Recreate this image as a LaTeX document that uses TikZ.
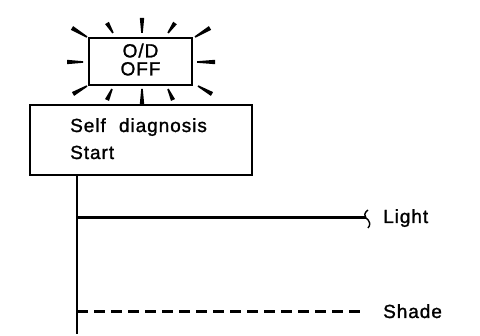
\documentclass[tikz,border=0pt]{standalone}
\usepackage{fontspec}
\setmainfont[LetterSpace=5,FakeBold=1.3]{Liberation Sans}
\usepackage{tikz}
\usetikzlibrary{calc}
\newcommand{\glint}[2]{\fill ($(#1)!0.8pt!90:(#2)$) -- ($(#2)!2.2pt!-90:(#1)$) -- ($(#2)!2.2pt!90:(#1)$) -- ($(#1)!0.8pt!-90:(#2)$) -- cycle;}

\begin{document}
\begin{tikzpicture}[x=1pt,y=-1pt,
  lbl/.style={inner sep=0pt,font=\fontsize{19}{18}\selectfont},
  wire/.style={line width=2pt}]
  \useasboundingbox (0,0) rectangle (480,336);
  % warning lamp
  \node[draw,line width=2.2pt,minimum width=103,minimum height=47,inner sep=0pt,align=center,lbl,text depth=4pt] (lamp) at (140.5,61.5) {O/D\\OFF};
  \glint{87,37}{72,28}
  \glint{113,33}{107,23}
  \glint{142,33}{142,18}
  \glint{168,33}{175,23}
  \glint{195,37}{210,28}
  \glint{83,62}{67,62}
  \glint{197,62}{215,62}
  \glint{87,86}{73,94}
  \glint{112,89}{107,100}
  \glint{142,89}{142,104}
  \glint{168,89}{173,100}
  \glint{198,86}{212,94}
  % self diagnosis box
  \node[draw,line width=1.8pt,minimum width=222,minimum height=70.5,inner sep=0pt,anchor=north west] (diag) at (29,104) {};
  \node[lbl,anchor=base west] (selftxt) at (70,132) {Self\hspace{7pt} diagnosis};
  \node[lbl,anchor=base west] (starttxt) at (70,159) {Start};
  % trunk and branches
  \coordinate (trunkend) at (77,334);
  \coordinate (lightbr) at (77,218);
  \coordinate (lightend) at (366,218);
  \coordinate (shadebr) at (77,312);
  \coordinate (shadeend) at (363,312);
  \draw[wire] (diag.south -| trunkend) -- (trunkend);
  \draw[wire,line width=3pt] (lightbr) -- (lightend);
  \draw[line width=1.4pt] (368,210) .. controls (364,213) and (364,216) .. (lightend) .. controls (370,221) and (371,225) .. (368,228);
  \draw[wire,line width=3pt,dash pattern=on 11pt off 6pt] (shadebr) -- (shadeend);
  \node[lbl,anchor=base west] (lighttxt) at (383,223) {Light};
  \node[lbl,anchor=base west] (shadetxt) at (383,318) {Shade};
\end{tikzpicture}
\end{document}
